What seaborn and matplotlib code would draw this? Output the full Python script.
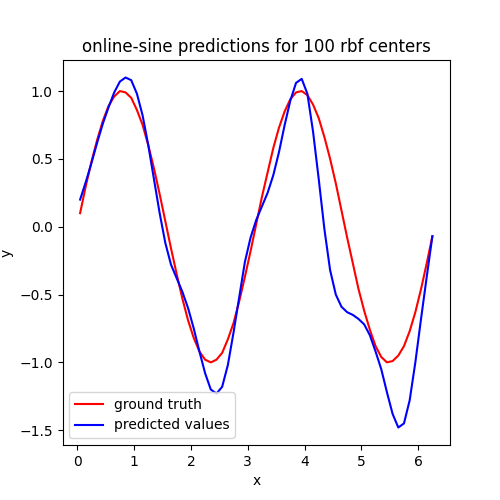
import numpy as np
import pandas as pd
import seaborn as sns
import matplotlib
matplotlib.use("Agg")
import matplotlib.pyplot as plt

x_values = np.round(np.arange(0.05, 6.3, 0.1), 2)

ground_truth = [
    0.10, 0.30, 0.48, 0.64, 0.78, 0.89, 0.96, 1.00, 0.99, 0.95, 0.86, 0.75, 0.60, 0.43,
    0.24, 0.04, -0.16, -0.35, -0.53, -0.69, -0.82, -0.92, -0.98, -1.00, -0.98, -0.93,
    -0.83, -0.71, -0.55, -0.37, -0.18, 0.02, 0.22, 0.40, 0.58, 0.73, 0.85, 0.94, 0.99,
    1.00, 0.97, 0.90, 0.80, 0.66, 0.50, 0.32, 0.12, -0.08, -0.27, -0.46, -0.62, -0.76,
    -0.88, -0.96, -1.00, -0.99, -0.95, -0.88, -0.77, -0.63, -0.46, -0.27, -0.07,
]

predicted = [
    0.20, 0.33, 0.47, 0.62, 0.76, 0.88, 0.99, 1.07, 1.10, 1.08, 0.98, 0.82, 0.60, 0.35,
    0.10, -0.12, -0.28, -0.38, -0.48, -0.60, -0.75, -0.92, -1.08, -1.20, -1.23, -1.18,
    -1.02, -0.78, -0.52, -0.26, -0.08, 0.05, 0.15, 0.25, 0.38, 0.55, 0.75, 0.93, 1.06,
    1.09, 0.98, 0.70, 0.35, -0.02, -0.32, -0.50, -0.59, -0.63, -0.65, -0.68, -0.72,
    -0.80, -0.92, -1.05, -1.22, -1.38, -1.48, -1.45, -1.28, -1.00, -0.68, -0.37, -0.07,
]

df = pd.DataFrame({"x": x_values, "ground truth": ground_truth, "predicted values": predicted})

fig, ax = plt.subplots(figsize=(5, 5), dpi=100)
sns.lineplot(data=df, x="x", y="ground truth", color="red", label="ground truth", ax=ax, sort=False)
sns.lineplot(data=df, x="x", y="predicted values", color="blue", label="predicted values", ax=ax, sort=False)

ax.set_title("online-sine predictions for 100 rbf centers")
ax.set_xlabel("x")
ax.set_ylabel("y")
ax.legend(loc="lower left")

plt.savefig("out.png")
